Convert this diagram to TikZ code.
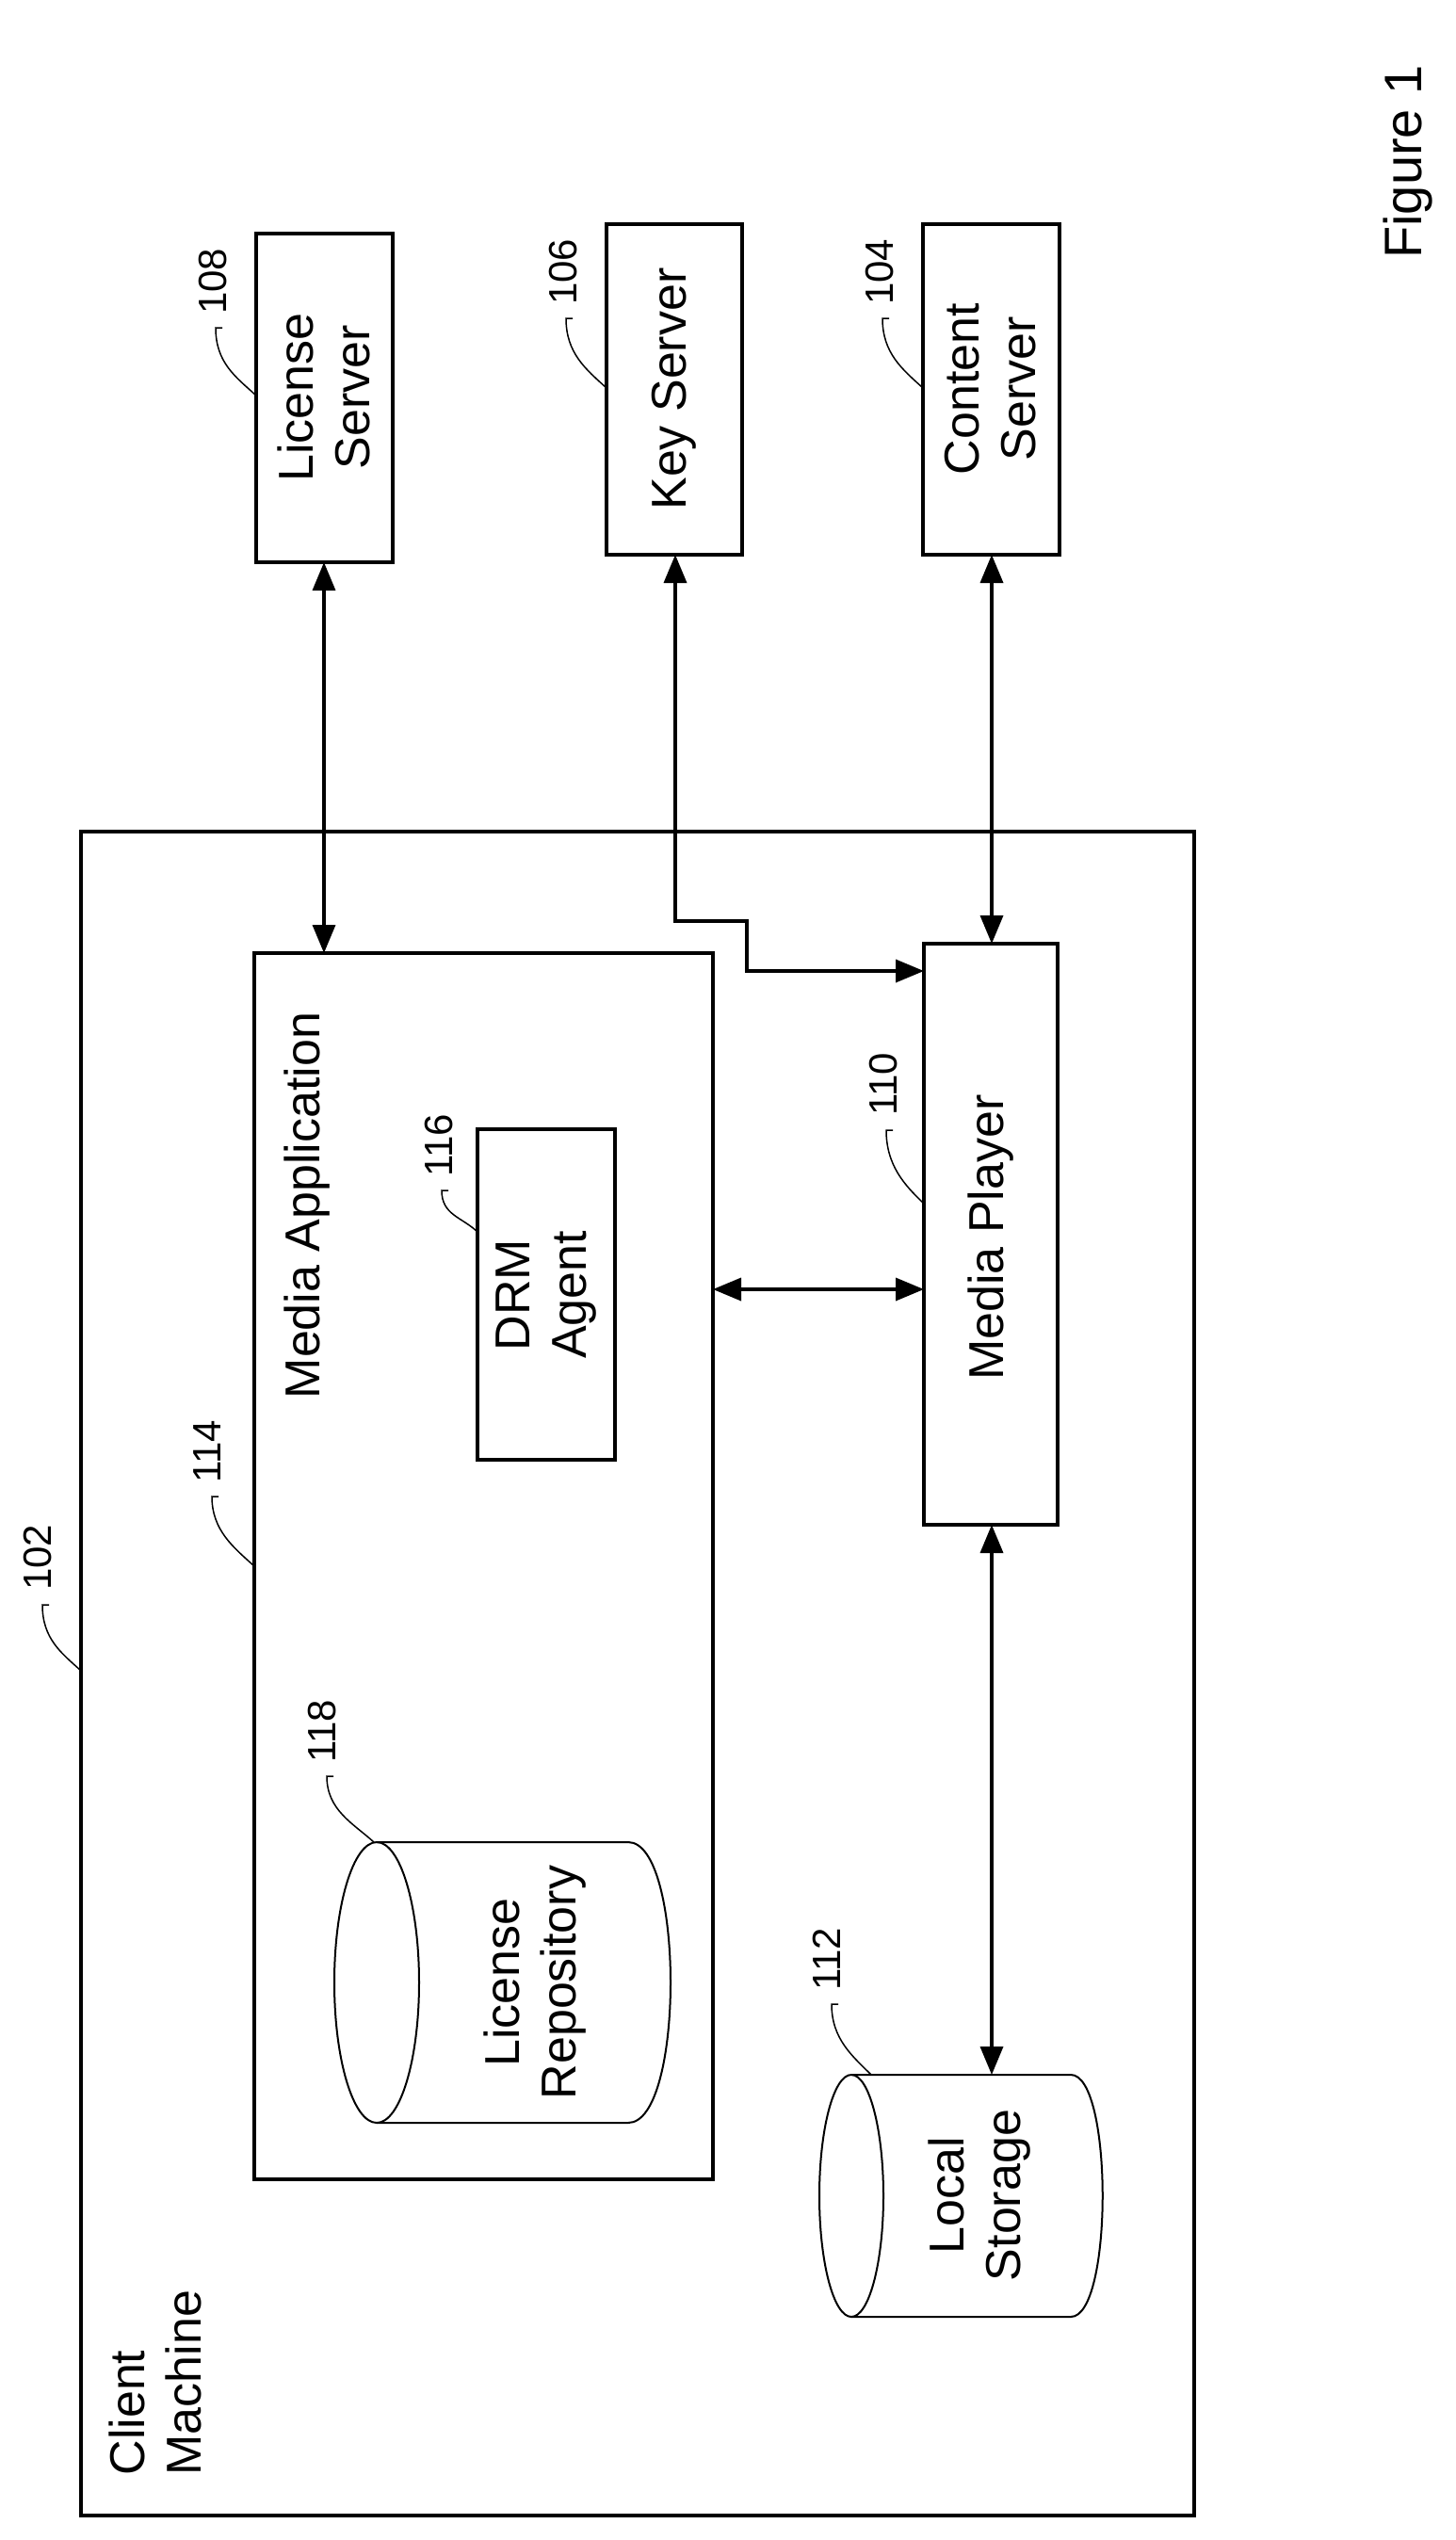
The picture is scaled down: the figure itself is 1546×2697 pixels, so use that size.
\documentclass[tikz,border=0pt]{standalone}
\usepackage{fontspec}
\setmainfont{Liberation Sans}
\usetikzlibrary{arrows.meta}
\begin{document}
\begin{tikzpicture}[x=1pt,y=-1pt,
  box/.style={draw,line width=3.5pt},
  txt/.style={rotate=90,align=center,font=\fontsize{52}{60}\selectfont},
  num/.style={rotate=90,font=\fontsize{42}{46}\selectfont,inner sep=0pt,anchor=west},
  lead/.style={line width=1.5pt},
  tip/.style={Triangle[length=30pt,width=24pt]},
  arr/.style={line width=3.5pt,{Triangle[length=30pt,width=24pt]}-{Triangle[length=30pt,width=24pt]}},
  cyl/.style={line width=2pt}]
\useasboundingbox (0,0) rectangle (1546,2697);
% boxes
\draw[box] (86,883) rectangle (1268,2671);
\draw[box] (270,1012) rectangle (757,2314);
\draw[box] (507,1199) rectangle (653,1550);
\draw[box] (981,1002) rectangle (1123,1619);
\draw[box] (272,248) rectangle (417,597);
\draw[box] (644,238) rectangle (788,589);
\draw[box] (980,238) rectangle (1125,589);
\coordinate (app) at (344,1012);
\coordinate (lsrv) at (344,597);
\coordinate (ksrv) at (717,589);
\coordinate (csrv) at (1053,589);
\coordinate (mptop) at (1053,1002);
\coordinate (mpleft) at (981,1031);
\coordinate (mpbot) at (1053,1619);
\coordinate (appr) at (757,1369);
\coordinate (mpl2) at (981,1369);
\coordinate (lstop) at (1053,2203);
% texts
\node[txt] (mediaapp) at (326,1280) {Media Application};
\node[txt] (drm) at (580,1375) {DRM\\Agent};
\node[txt] (mp) at (1052,1314) {Media Player};
\node[txt] (ls) at (344,422) {License\\Server};
\node[txt] (ks) at (716,413) {Key Server};
\node[txt] (cs) at (1052,413) {Content\\Server};
\node[txt,align=left,anchor=north west] (cm) at (112,2632) {Client\\Machine};
\node[rotate=90,font=\fontsize{56}{60}\selectfont] (fig) at (1495,172) {Figure 1};
% cylinders
\draw[cyl] (400,1956) -- (667,1956) .. controls (727,1956) and (727,2254) .. (667,2254) -- (400,2254);
\draw[cyl] (400,2105) ellipse[x radius=45,y radius=149];
\node[txt] (lr) at (568,2105) {License\\Repository};
\draw[cyl] (904,2203) -- (1137,2203) .. controls (1182,2203) and (1182,2460) .. (1137,2460) -- (904,2460);
\draw[cyl] (904,2331.5) ellipse[x radius=34,y radius=128.5];
\node[txt] (lst) at (1040,2331) {Local\\Storage};
% arrows
\draw[arr] (lsrv) -- (app);
\draw[arr] (csrv) -- (mptop);
\draw[arr] (appr) -- (mpl2);
\draw[arr] (mpbot) -- (lstop);
\draw[arr] (ksrv) |- (793,978) |- (mpleft);
% labels
\node[num] (n108) at (226,334) {108};
\draw[lead] (236,348) -- (229,348) .. controls (229,385) and (250,400) .. (272,420);
\node[num] (n106) at (598,324) {106};
\draw[lead] (608,338) -- (601,338) .. controls (601,375) and (622,392) .. (644,412);
\node[num] (n104) at (934,324) {104};
\draw[lead] (944,338) -- (937,338) .. controls (937,375) and (958,392) .. (980,412);
\node[num] (n116) at (466,1250) {116};
\draw[lead] (476,1264) -- (469,1264) .. controls (469,1290) and (490,1292) .. (507,1308);
\node[num] (n110) at (938,1185) {110};
\draw[lead] (948,1200) -- (941,1200) .. controls (941,1237) and (960,1258) .. (981,1278);
\node[num] (n114) at (220,1575) {114};
\draw[lead] (232,1589) -- (225,1589) .. controls (225,1625) and (248,1643) .. (270,1663);
\node[num] (n102) at (40,1689) {102};
\draw[lead] (52,1704) -- (45,1704) .. controls (45,1740) and (65,1755) .. (86,1774);
\node[num] (n118) at (342,1872) {118};
\draw[lead] (354,1886) -- (347,1886) .. controls (347,1922) and (375,1936) .. (397,1956);
\node[num] (n112) at (878,2114) {112};
\draw[lead] (890,2128) -- (883,2128) .. controls (883,2165) and (905,2183) .. (925,2203);
\end{tikzpicture}
\end{document}
